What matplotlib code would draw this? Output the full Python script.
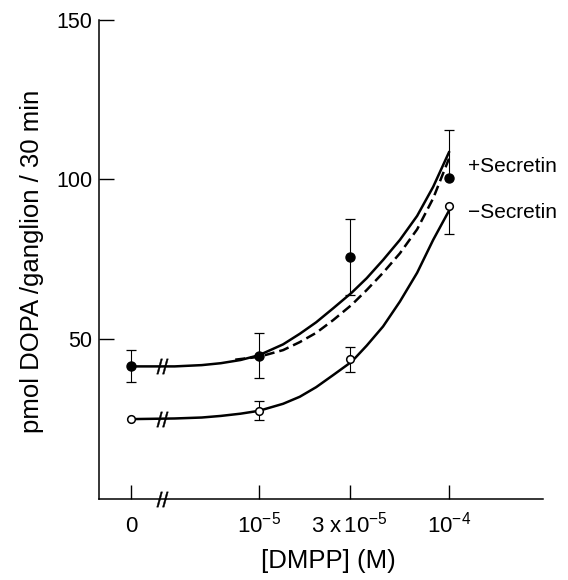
import matplotlib
matplotlib.use('Agg')
import matplotlib.pyplot as plt
import numpy as np

plt.rcParams['font.family'] = ['Liberation Sans', 'DejaVu Sans']
plt.rcParams['mathtext.fontset'] = 'custom'
plt.rcParams['mathtext.rm'] = 'Liberation Sans'
plt.rcParams['mathtext.it'] = 'Liberation Sans:italic'

# measured points: [DMPP] (M) and pmol DOPA/ganglion/30 min
conc = [0, 1e-5, 3e-5, 1e-4]
plus_sec = [41.5, 44.8, 75.7, 100.6]
plus_err_lo = [5.0, 7.0, 12.0, 0.0]
plus_err_hi = [5.0, 7.0, 12.0, 15.0]
minus_sec = [25.0, 27.6, 43.7, 91.8]
minus_err_lo = [0.0, 3.0, 4.0, 9.0]
minus_err_hi = [0.0, 3.0, 4.0, 0.0]

# hand drawn curves
curve_x = [0, 3.6e-6, 5.0e-6, 6.3e-6, 8.0e-6, 1.0e-5, 1.34e-5, 1.64e-5,
           2.0e-5, 2.46e-5, 3.08e-5, 3.69e-5, 4.5e-5, 5.52e-5, 6.8e-5,
           8.26e-5, 1.0e-4]
curve_plus = [41.5, 41.5, 41.9, 42.5, 43.5, 45.0, 48.4, 51.7, 55.3, 59.7,
              64.6, 69.1, 74.8, 81.1, 88.6, 97.7, 108.5]
curve_minus = [25.0, 25.2, 25.5, 26.0, 26.7, 27.6, 29.8, 32.0, 35.0, 38.8,
               43.0, 48.0, 54.0, 61.8, 70.8, 81.1, 90.2]
dash_x = [7.5e-6, 1.0e-5, 1.34e-5, 1.64e-5, 2.0e-5, 2.46e-5, 3.08e-5,
          3.69e-5, 4.5e-5, 5.52e-5, 6.8e-5, 8.26e-5, 1.0e-4]
dash_y = [43.6, 44.5, 46.6, 49.1, 52.0, 56.0, 60.8, 65.4, 70.8, 76.9, 84.4,
          94.1, 106.5]

tick_pos = [0, 1e-5, 3e-5, 1e-4]
tick_lbl = ['0', r'$\mathregular{10^{-5}}$', r'$\mathregular{3\ x\,10^{-5}}$',
            r'$\mathregular{10^{-4}}$']

zero_pos = 10 ** -5.674   # where "0" sits on the broken log axis
break_pos = 10 ** -5.51


def xp(vals):
    v = np.array(vals, dtype=float)
    return np.where(v == 0, zero_pos, v)


def draw_err(ax, x, y, lo, hi):
    for xi, yi, l, h in zip(xp(x), y, lo, hi):
        ends = []
        if l > 0:
            ends.append(yi - l)
        if h > 0:
            ends.append(yi + h)
        if not ends:
            continue
        ax.vlines(xi, yi - l, yi + h, color='k', lw=0.8, zorder=2)
        ax.plot([xi] * len(ends), ends, ls='none', marker='_', ms=7.5,
                mew=0.9, color='k', zorder=2)


fig = plt.figure(figsize=(5.68, 5.80), dpi=100)
ax = fig.add_axes([99 / 568, 81 / 580, 444 / 568, 479.3 / 580])

ax.plot(xp(curve_x), curve_plus, color='k', lw=1.8, zorder=3)
ax.plot(xp(curve_x), curve_minus, color='k', lw=1.8, zorder=3)
ax.plot(xp(dash_x), dash_y, color='k', lw=1.8, dashes=(4, 2), zorder=3)

draw_err(ax, conc, plus_sec, plus_err_lo, plus_err_hi)
draw_err(ax, conc, minus_sec, minus_err_lo, minus_err_hi)

ax.plot(xp(conc), plus_sec, ls='none', marker='o', ms=6.5, mfc='k', mec='k',
        zorder=4)
ax.plot(xp(conc), minus_sec, ls='none', marker='o', ms=5.5, mfc='white',
        mec='k', mew=1.1, zorder=4)

# axis break marks
for yb in [curve_plus[0], curve_minus[0], 0]:
    ax.plot(break_pos, yb, marker='$//$', ms=11, color='k', mew=0.3,
            clip_on=False, zorder=5)

ax.text(10 ** -3.9, 104, '+Secretin', fontsize=15, ha='left', va='center')
ax.text(10 ** -3.9, 89.8, '\u2212Secretin', fontsize=15, ha='left',
        va='center')

ax.set_xscale('log')
ax.set_xlim(10 ** -5.842, 10 ** -3.505)
ax.set_ylim(0, 150)
ax.xaxis.set_minor_locator(matplotlib.ticker.NullLocator())
ax.set_xticks(xp(tick_pos))
ax.set_xticklabels(tick_lbl)
ax.set_yticks([50, 100, 150])
ax.set_yticklabels(['50', '100', '150'])
ax.tick_params(axis='x', direction='in', length=10, width=1, pad=24,
               labelsize=16)
ax.tick_params(axis='y', direction='in', length=11, width=1, pad=5,
               labelsize=15.5)
for lbl in ax.get_xticklabels():
    lbl.set_va('baseline')

for side in ['top', 'right']:
    ax.spines[side].set_visible(False)
for side in ['left', 'bottom']:
    ax.spines[side].set_linewidth(1.1)

fig.text(32 / 568, 1 - 261 / 580, 'pmol DOPA /ganglion / 30 min',
         rotation=90, fontsize=18.5, ha='center', va='center')
fig.text(328 / 568, 1 - 561 / 580, '[DMPP] (M)', fontsize=18.5, ha='center',
         va='center')

fig.savefig('out.png', dpi=100)
